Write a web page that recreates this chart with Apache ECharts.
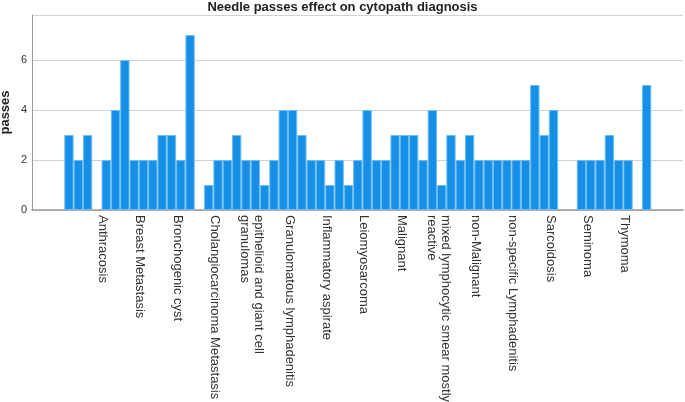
<!DOCTYPE html>
<html>
<head>
<meta charset="utf-8">
<script src="https://cdn.jsdelivr.net/npm/echarts@6/dist/echarts.min.js"></script>
<style>
html,body{margin:0;padding:0;background:#fff;}
#chart{width:685px;height:402px;}
</style>
</head>
<body>
<div id="chart"></div>
<script>
// bar slots (one bar per slot, null = empty slot)
const slotIds = Array.from({length: 63}, (_, i) => String(i + 1));
const passes = [3,2,3,null,2,4,6,2,2,2,3,3,2,7,null,1,2,2,3,2,2,1,2,4,4,3,2,2,1,2,
                1,2,4,2,2,3,3,3,2,4,1,3,2,3,2,2,2,2,2,2,5,3,4,null,null,2,2,2,3,2,2,null,5];
// diagnosis tick labels
const diagnoses = [
  'Anthracosis','Breast Metastasis','Bronchogenic cyst','Cholangiocarcinoma Metastasis',
  'epithelioid and giant cell\ngranulomas','Granulomatous lymphadenitis','Inflammatory aspirate',
  'Leiomyosarcoma','Malignant','mixed lymphocytic smear mostly\nreactive','non-Malignant',
  'non-specific Lymphadenitis','Sarcoidosis','Seminoma','Thymoma'
];
const yTicks = [0, 2, 4, 6];

const chart = echarts.init(document.getElementById('chart'));
const font = 'Liberation Sans, Arial, sans-serif';
const yMax = 7.8;
chart.setOption({
  animation: false,
  backgroundColor: '#fff',
  title: {
    text: 'Needle passes effect on cytopath diagnosis',
    left: 'center', top: 0, padding: [1, 0, 0, 0],
    textStyle: {fontFamily: font, fontSize: 13, fontWeight: 'bold', color: '#222'}
  },
  grid: [
    {left: 32, right: 2, top: 15, bottom: 192, outerBoundsMode: 'none', containLabel: false},
    {left: 64.3, width: 587, top: 15, bottom: 192, outerBoundsMode: 'none', containLabel: false},
    {left: 84.05, width: 559.5, top: 15, bottom: 192, outerBoundsMode: 'none', containLabel: false}
  ],
  xAxis: [
    {gridIndex: 0, type: 'value', min: 0, max: 1,
     axisLine: {show: true, lineStyle: {color: '#999', width: 1.5}},
     axisTick: {show: false}, axisLabel: {show: false}, splitLine: {show: false}},
    {gridIndex: 1, type: 'category', data: slotIds,
     axisLine: {show: false}, axisTick: {show: false}, axisLabel: {show: false}},
    {gridIndex: 2, type: 'category', data: diagnoses,
     axisLine: {show: false}, axisTick: {show: false},
     axisLabel: {interval: 0, rotate: -90, margin: 5, fontFamily: font, fontSize: 13,
                 color: '#333', lineHeight: 14}}
  ],
  yAxis: [
    {gridIndex: 0, type: 'value', min: 0, max: yMax, interval: 2,
     name: 'passes', nameLocation: 'middle', nameGap: 20, nameMoveOverlap: false,
     nameTextStyle: {fontFamily: font, fontSize: 13, fontWeight: 'bold', color: '#222'},
     axisLine: {show: true, lineStyle: {color: '#999'}},
     axisTick: {show: false},
     axisLabel: {fontFamily: font, fontSize: 11, color: '#333', margin: 5,
                 formatter: v => yTicks.includes(v) ? String(v) : ''},
     splitLine: {show: true, lineStyle: {color: '#d2d2d2', width: 1}}},
    {gridIndex: 1, type: 'value', min: 0, max: yMax, show: false},
    {gridIndex: 2, type: 'value', min: 0, max: yMax, show: false}
  ],
  series: [{
    type: 'bar', xAxisIndex: 1, yAxisIndex: 1, data: passes,
    barCategoryGap: 0,
    itemStyle: {color: '#1590e6', borderColor: '#6dbdf3', borderWidth: 1}
  }]
});
</script>
</body>
</html>
